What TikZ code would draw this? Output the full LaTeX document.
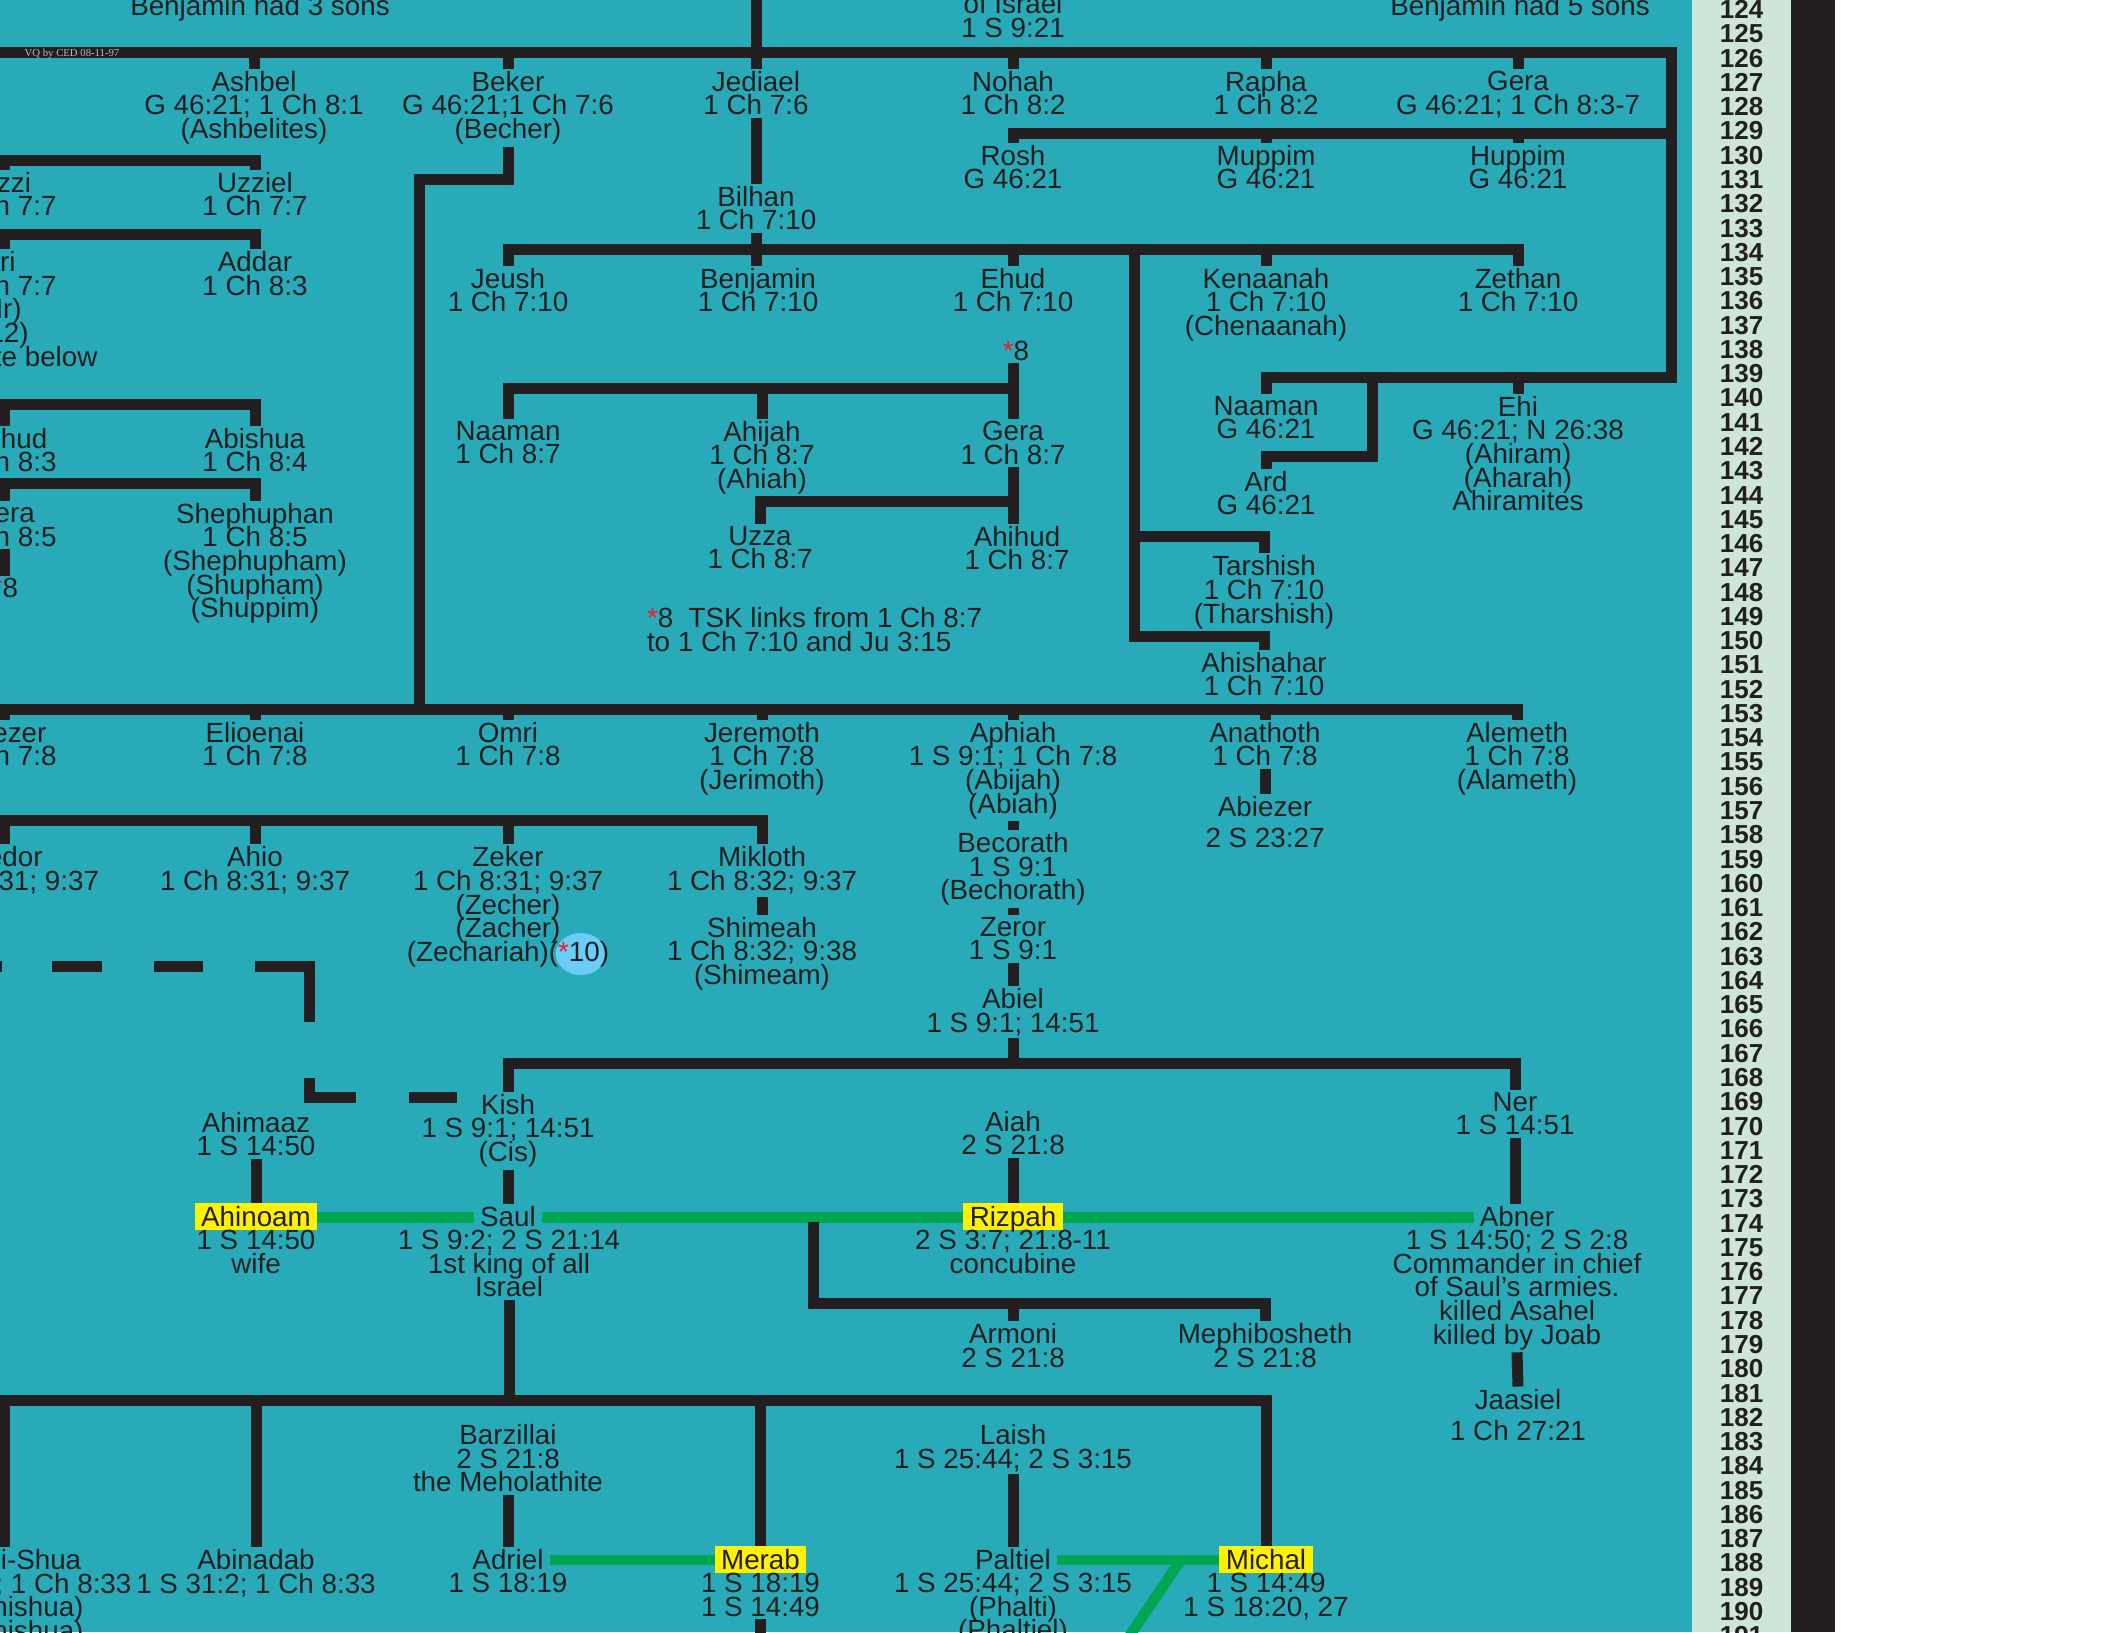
\documentclass[tikz,border=0pt]{standalone}
\usepackage{fontspec}
\setmainfont{Liberation Sans}
\newfontfamily\vqfont{Liberation Serif}
\usepackage{xcolor}
\usepackage{tikz}
\usetikzlibrary{positioning, calc}

\definecolor{chartbg}{RGB}{41,170,184}
\definecolor{mint}{RGB}{205,230,215}
\definecolor{ink}{RGB}{35,31,32}
\definecolor{spouse}{RGB}{0,166,81}
\definecolor{hilite}{RGB}{255,242,0}
\definecolor{skyblue}{RGB}{105,205,245}
\definecolor{starred}{RGB}{237,28,36}
\definecolor{vqgray}{RGB}{185,185,185}

\newcommand\chartfont{\fontsize{7.9}{6.72}\selectfont\lineskiplimit=-20pt\relax}
\newcommand\numfont{\fontsize{7.4}{7.4}\selectfont\bfseries}
\newcommand\redstar{\textcolor{starred}{*}}

\begin{document}
\begin{tikzpicture}[
    x=0.01cm, y=-0.01cm,
    pnode/.style={anchor=north, align=center, inner sep=0pt, outer xsep=0pt, outer ysep=0.025cm, font=\chartfont, text=ink},
    snode/.style={anchor=base, inner xsep=0.06cm, inner ysep=0pt, outer xsep=0pt, outer ysep=0.025cm, font=\chartfont, text=ink},
    hnode/.style={anchor=base, fill=hilite, inner xsep=0.065cm, inner ysep=0pt, outer sep=0pt, text height=0.235cm, text depth=0.035cm, font=\chartfont, text=ink},
    nnum/.style={anchor=base, inner sep=0pt, font=\numfont, text=ink},
    tline/.style={line width=0.11cm, draw=ink},
    sline/.style={line width=0.106cm, draw=spouse}
]

% Page
\useasboundingbox (0,0) rectangle (2112,1632);
\clip (0,0) rectangle (2112,1632);
\fill[chartbg] (0,0) rectangle (1692,1632);
\fill[mint] (1692,0) rectangle (1790.5,1632);
\fill[ink] (1790.5,0) rectangle (1835,1632);
\fill[white] (1835,0) rectangle (2112,1632);

% Row numbers
\foreach \n in {124,...,191}
    \node[nnum] at (1741.5,{18.6+(\n-124)*24.27}) {\n};

% Mark behind note 10
\fill[skyblue] (580.8,954) ellipse [x radius=0.25cm, y radius=0.21cm];

% Headings
\node[snode] (sons3) at (260,15) {Benjamin had 3 sons};
\node[pnode] (israel) at (1013,-9) {of Israel\\1 S 9:21};
\node[snode] (sons5) at (1520,15) {Benjamin had 5 sons};

% Sons of Benjamin
\node[pnode] (ashbel) at (254,68.5) {Ashbel\\G 46:21; 1 Ch 8:1\\(Ashbelites)};
\node[pnode] (beker) at (508,68.5) {Beker\\G 46:21;1 Ch 7:6\\(Becher)};
\node[pnode] (jediael) at (756,68.5) {Jediael\\1 Ch 7:6};
\node[pnode] (nohah) at (1013,68.5) {Nohah\\1 Ch 8:2};
\node[pnode] (rapha) at (1266,68.5) {Rapha\\1 Ch 8:2};
\node[pnode] (gera) at (1518,68.5) {Gera\\G 46:21; 1 Ch 8:3-7};
\node[pnode] (rosh) at (1013,142.5) {Rosh\\G 46:21};
\node[pnode] (muppim) at (1266,142.5) {Muppim\\G 46:21};
\node[pnode] (huppim) at (1518,142.5) {Huppim\\G 46:21};
\node[pnode] (naamana) at (1266,393.5) {Naaman\\G 46:21};
\node[pnode] (ard) at (1266,468.5) {Ard\\G 46:21};
\node[pnode] (ehi) at (1518,393.5) {Ehi\\G 46:21; N 26:38\\(Ahiram)\\(Aharah)\\Ahiramites};

% Bilhan and sons
\node[pnode] (bilhan) at (756,183.5) {Bilhan\\1 Ch 7:10};
\node[pnode] (jeush) at (508,265.5) {Jeush\\1 Ch 7:10};
\node[pnode] (benjamin) at (758,265.5) {Benjamin\\1 Ch 7:10};
\node[pnode] (ehud) at (1013,265.5) {Ehud\\1 Ch 7:10};
\node[pnode] (kenaanah) at (1266,265.5) {Kenaanah\\1 Ch 7:10\\(Chenaanah)};
\node[pnode] (zethan) at (1518,265.5) {Zethan\\1 Ch 7:10};
\node[pnode] (tarshish) at (1264,553.2) {Tarshish\\1 Ch 7:10\\(Tharshish)};
\node[pnode] (ahishahar) at (1264,649.5) {Ahishahar\\1 Ch 7:10};

% Ehud's line
\node[pnode] (star8) at (1016,338.2) {\redstar8};
\node[pnode] (naamanb) at (508,418.5) {Naaman\\1 Ch 8:7};
\node[pnode] (ahijah) at (762,418.5) {Ahijah\\1 Ch 8:7\\(Ahiah)};
\node[pnode] (gerae) at (1013,418.5) {Gera\\1 Ch 8:7};
\node[pnode] (uzza) at (760,523.5) {Uzza\\1 Ch 8:7};
\node[pnode] (ahihud) at (1017,523.5) {Ahihud\\1 Ch 8:7};
\node[pnode, anchor=north west, align=left] (tsknote) at (647,605) {\redstar8\ \ TSK links from 1 Ch 8:7\\to 1 Ch 7:10 and Ju 3:15};

% Bela's line
\node[pnode] (uzzi) at (4,169.5) {Uzzi\\1 Ch 7:7};
\node[pnode] (uzziel) at (255,169.5) {Uzziel\\1 Ch 7:7};
\node[pnode] (iri) at (4,249) {Iri\\1 Ch 7:7\\(Ir)\\(12)\\see note below};
\node[pnode] (addar) at (255,249) {Addar\\1 Ch 8:3};
\node[pnode] (abihud) at (4,425.5) {Abihud\\1 Ch 8:3};
\node[pnode] (abishua) at (255,425.5) {Abishua\\1 Ch 8:4};
\node[pnode] (gerab) at (4,500.5) {Gera\\1 Ch 8:5};
\node[pnode] (shephuphan) at (255,500.5) {Shephuphan\\1 Ch 8:5\\(Shephupham)\\(Shupham)\\(Shuppim)};
\node[pnode] (star8b) at (5,575.5) {\redstar8};

% Becher's sons
\node[pnode] (eliezer) at (4,719.5) {Eliezer\\1 Ch 7:8};
\node[pnode] (elioenai) at (255,719.5) {Elioenai\\1 Ch 7:8};
\node[pnode] (omri) at (508,719.5) {Omri\\1 Ch 7:8};
\node[pnode] (jeremoth) at (762,719.5) {Jeremoth\\1 Ch 7:8\\(Jerimoth)};
\node[pnode] (aphiah) at (1013,719.5) {Aphiah\\1 S 9:1; 1 Ch 7:8\\(Abijah)\\(Abiah)};
\node[pnode] (anathoth) at (1265,719.5) {Anathoth\\1 Ch 7:8};
\node[pnode] (alemeth) at (1517,719.5) {Alemeth\\1 Ch 7:8\\(Alameth)};
\node[pnode] (abiezer) at (1265,794.3) {Abiezer\\[0.072cm]2 S 23:27};
\node[pnode] (becorath) at (1013,830) {Becorath\\1 S 9:1\\(Bechorath)};
\node[pnode] (zeror) at (1013,914.5) {Zeror\\1 S 9:1};
\node[pnode] (abiel) at (1013,986.1) {Abiel\\1 S 9:1; 14:51};

% Jeiel's sons
\node[pnode] (gedor) at (4,844.3) {Gedor\\1 Ch 8:31; 9:37};
\node[pnode] (ahio) at (255,844.3) {Ahio\\1 Ch 8:31; 9:37};
\node[pnode] (zeker) at (508,844.3) {Zeker\\1 Ch 8:31; 9:37\\(Zecher)\\(Zacher)\\(Zechariah)(\redstar10)};
\node[pnode] (mikloth) at (762,844.3) {Mikloth\\1 Ch 8:32; 9:37};
\node[pnode] (shimeah) at (762,914.5) {Shimeah\\1 Ch 8:32; 9:38\\(Shimeam)};

% Saul's generation
\node[pnode] (ahimaaz) at (256,1109.5) {Ahimaaz\\1 S 14:50};
\node[pnode] (kish) at (508,1091.5) {Kish\\1 S 9:1; 14:51\\(Cis)};
\node[pnode] (aiah) at (1013,1108.5) {Aiah\\2 S 21:8};
\node[pnode] (ner) at (1515,1089.5) {Ner\\1 S 14:51};
\node[hnode] (ahinoam) at (256,1226.5) {Ahinoam};
\node[snode] (saul) at (508,1226.5) {Saul};
\node[hnode] (rizpah) at (1013,1226.5) {Rizpah};
\node[snode] (abner) at (1517,1226.5) {Abner};
\node[pnode] (ahinoamref) at (256,1227.6) {1 S 14:50\\wife};
\node[pnode] (saulref) at (509,1227.6) {1 S 9:2; 2 S 21:14\\1st king of all\\Israel};
\node[pnode] (rizpahref) at (1013,1227.6) {2 S 3:7; 21:8-11\\concubine};
\node[pnode] (abnerref) at (1517,1227.6) {1 S 14:50; 2 S 2:8\\Commander in chief\\of Saul’s armies.\\killed Asahel\\killed by Joab};
\node[pnode] (armoni) at (1013,1320.9) {Armoni\\2 S 21:8};
\node[pnode] (mephibosheth) at (1265,1320.9) {Mephibosheth\\2 S 21:8};
\node[pnode] (jaasiel) at (1518,1386.5) {Jaasiel\\[0.073cm]1 Ch 27:21};

% Saul's children
\node[pnode] (barzillai) at (508,1421.9) {Barzillai\\2 S 21:8\\the Meholathite};
\node[pnode] (laish) at (1013,1421.9) {Laish\\1 S 25:44; 2 S 3:15};
\node[pnode] (malchishua) at (4,1546.9) {Malchi-Shua\\1 S 14:49; 1 Ch 8:33\\(Malchishua)\\(Melchishua)};
\node[pnode] (abinadab) at (256,1546.9) {Abinadab\\1 S 31:2; 1 Ch 8:33};
\node[snode] (adriel) at (508,1569.4) {Adriel};
\node[hnode] (merab) at (760.5,1569.4) {Merab};
\node[snode] (paltiel) at (1013,1569.4) {Paltiel};
\node[hnode] (michal) at (1266,1569.4) {Michal};
\node[pnode] (adrielref) at (508,1570.5) {1 S 18:19};
\node[pnode] (merabref) at (760.5,1570.5) {1 S 18:19\\1 S 14:49};
\node[pnode] (paltielref) at (1013,1570.5) {1 S 25:44; 2 S 3:15\\(Phalti)\\(Phaltiel)};
\node[pnode] (michalref) at (1266,1570.5) {1 S 14:49\\1 S 18:20, 27};

% Benjamin's sons
\draw[tline] (-60,52.5) -| (1671,377.5) -| (naamana.north);
\draw[tline] (jediael.north) -- (jediael.north |- 0,-20);
\draw[tline] (ashbel.north) -- (ashbel.north |- 0,52.5);
\draw[tline] (beker.north) -- (beker.north |- 0,52.5);
\draw[tline] (nohah.north) -- (nohah.north |- 0,52.5);
\draw[tline] (rapha.north) -- (rapha.north |- 0,52.5);
\draw[tline] (gera.north) -- (gera.north |- 0,52.5);
\draw[tline] (rosh.north) |- (1671,133);
\draw[tline] (muppim.north) -- (muppim.north |- 0,133);
\draw[tline] (huppim.north) -- (huppim.north |- 0,133);
\draw[tline] (ehi.north) -- (ehi.north |- 0,377.5);
\draw[tline] (1372,377.5) |- (ard.north |- 0,456) -- (ard.north);

% Bilhan
\draw[tline] (jediael.south) -- (bilhan.north);
\draw[tline] (jeush.north) |- (zethan.north |- 0,249.5) -- (zethan.north);
\draw[tline] (bilhan.south) -- (bilhan.south |- benjamin.north);
\draw[tline] (ehud.north) -- (ehud.north |- 0,249.5);
\draw[tline] (kenaanah.north) -- (kenaanah.north |- 0,249.5);
\draw[tline] (1134.5,249.5) |- (ahishahar.north |- 0,636.5) -- (ahishahar.north);
\draw[tline] (1134.5,536.5) -| (tarshish.north);

% Ehud
\draw[tline] (gerae.north |- star8.south) -- (gerae.north);
\draw[tline] (naamanb.north) |- (gerae.north |- 0,388);
\draw[tline] (ahijah.north) -- (ahijah.north |- 0,388);
\draw[tline] (gerae.south) -- (gerae.south |- ahihud.north);
\draw[tline] (uzza.north) |- (gerae.south |- 0,501.8);

% Bela
\draw[tline] (-60,160.7) -| (uzziel.north);
\draw[tline] (uzzi.north) -- (uzzi.north |- 0,160.7);
\draw[tline] (-60,234) -| (addar.north);
\draw[tline] (iri.north) -- (iri.north |- 0,234);
\draw[tline] (-60,404) -| (abishua.north);
\draw[tline] (abihud.north) -- (abihud.north |- 0,404);
\draw[tline] (-60,483) -| (shephuphan.north);
\draw[tline] (gerab.north) -- (gerab.north |- 0,483);
\draw[tline] (gerab.south) -- (gerab.south |- star8b.north);

% Becher
\draw[tline] (beker.south) |- (419.6,179) -- (419.6,709);
\draw[tline] (-60,709) -| (alemeth.north);
\draw[tline] (eliezer.north) -- (eliezer.north |- 0,709);
\draw[tline] (elioenai.north) -- (elioenai.north |- 0,709);
\draw[tline] (omri.north) -- (omri.north |- 0,709);
\draw[tline] (jeremoth.north) -- (jeremoth.north |- 0,709);
\draw[tline] (aphiah.north) -- (aphiah.north |- 0,709);
\draw[tline] (anathoth.north) -- (anathoth.north |- 0,709);
\draw[tline] (anathoth.south) -- (abiezer.north);
\draw[tline] (aphiah.south) -- (becorath.north);
\draw[tline] (becorath.south) -- (zeror.north);
\draw[tline] (zeror.south) -- (abiel.north);

% Jeiel
\draw[tline] (-60,820) -| (mikloth.north);
\draw[tline] (gedor.north) -- (gedor.north |- 0,820);
\draw[tline] (ahio.north) -- (ahio.north |- 0,820);
\draw[tline] (zeker.north) -- (zeker.north |- 0,820);
\draw[tline] (mikloth.south) -- (shimeah.north);
\draw[tline] (-48,966) -- (2,966) (52,966) -- (102.4,966) (153.8,966) -- (203.4,966)
    (254.8,966) -- (309.7,966) -- (309.7,1022)
    (309.7,1077.5) -- (309.7,1097.6) -- (356,1097.6) (408.6,1097.6) -- (456.8,1097.6);

% Abiel
\draw[tline] (kish.north) |- (ner.north |- 0,1063) -- (ner.north);
\draw[tline] (abiel.south) -- (abiel.south |- 0,1063);
\draw[tline] (ahimaaz.south) -- (ahinoam.north);
\draw[tline] (kish.south) -- (saul.north);
\draw[tline] (aiah.south) -- (rizpah.north);
\draw[tline] (ner.south) -- (ner.south |- abner.north);

% Saul's wives
\draw[sline] (ahinoam.mid east) -- (saul.mid west);
\draw[sline] (saul.mid east) -- (rizpah.mid west);
\draw[sline] (rizpah.mid east) -- (abner.mid west);
\coordinate (rzfork) at (813.7,1222);
\draw[tline] (rzfork) |- (mephibosheth.north |- 0,1303.7) -- (mephibosheth.north);
\draw[tline] (armoni.north) -- (armoni.north |- 0,1303.7);
\draw[tline] (abnerref.south) -- (jaasiel.north);

% Saul's children
\draw[tline] (saulref.south) -- (saulref.south |- 0,1400.5);
\draw[tline] (-60,1400.5) -| (michal.north);
\draw[tline] (malchishua.north) -- (malchishua.north |- 0,1400.5);
\draw[tline] (abinadab.north) -- (abinadab.north |- 0,1400.5);
\draw[tline] (merab.north) -- (merab.north |- 0,1400.5);
\draw[tline] (barzillai.south) -- (adriel.north);
\draw[tline] (laish.south) -- (paltiel.north);
\draw[tline] (merabref.south) -- (merabref.south |- 0,1660);
\draw[sline] (adriel.mid east) -- (merab.mid west);
\draw[sline] (paltiel.mid east) -- (michal.mid west);
\coordinate (michfork) at (1180,1561);
\draw[sline] (michfork) -- (1112,1662);

% Stamp on the top bar
\node[anchor=base west, inner sep=0pt, font=\vqfont\fontsize{3.05}{3.05}\selectfont, text=vqgray] (vq) at (24,56.5) {VQ by CED 08-11-97};

\end{tikzpicture}
\end{document}
